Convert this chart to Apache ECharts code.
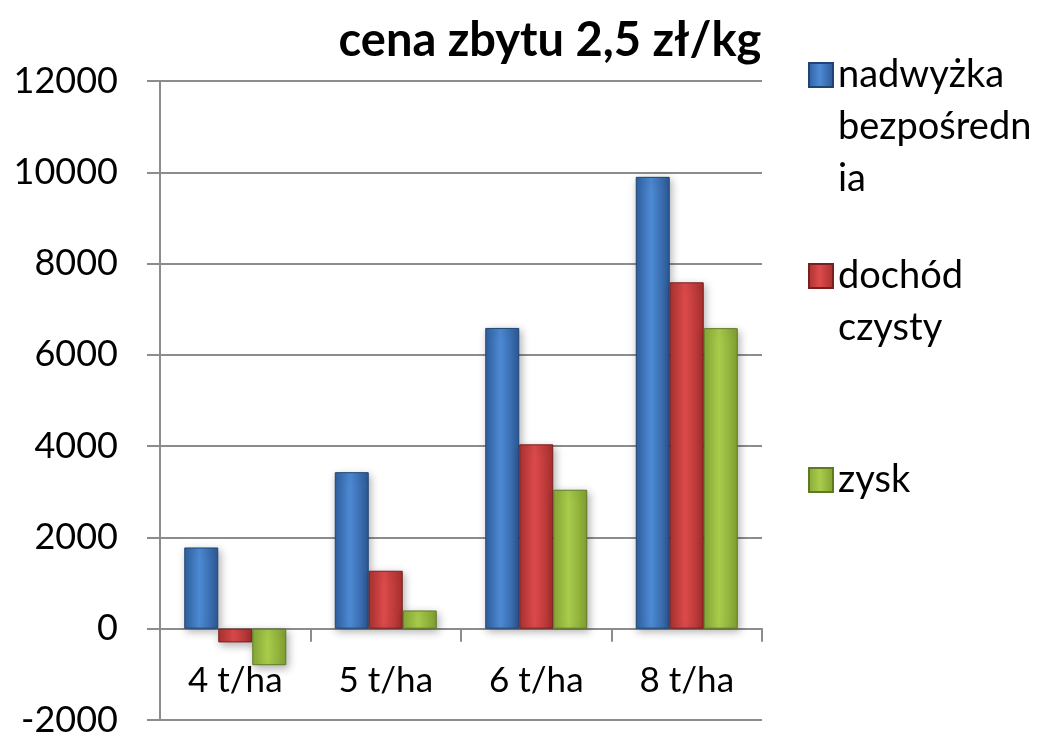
<!DOCTYPE html>
<html>
<head>
<meta charset="utf-8">
<script src="https://cdn.jsdelivr.net/npm/echarts@6/dist/echarts.min.js"></script>
<style>
  html, body { margin: 0; padding: 0; background: #fff; }
  #main { width: 1050px; height: 735px; }
</style>
</head>
<body>
<div id="main"></div>
<script>
var categories = ['4 t/ha', '5 t/ha', '6 t/ha', '8 t/ha'];
var seriesNames = ['nadwyżka bezpośrednia', 'dochód czysty', 'zysk'];
var nadwyzka = [1780, 3430, 6590, 9900];
var dochod = [-300, 1270, 4040, 7590];
var zysk = [-800, 400, 3045, 6585];

var FONT = 'Lato, "Open Sans", sans-serif';

// wrapped legend labels, as they appear in the picture
var legendLines = {
  'nadwyżka bezpośrednia': ['nadwyżka', 'bezpośredn', 'ia'],
  'dochód czysty': ['dochód', 'czysty'],
  'zysk': ['zysk']
};

function barGradient(dark, light, edge) {
  return new echarts.graphic.LinearGradient(0, 0, 1, 0, [
    { offset: 0, color: dark },
    { offset: 0.45, color: light },
    { offset: 1, color: edge }
  ]);
}

var colors = [
  barGradient('#2f609f', '#4d8ad4', '#2c5894'),
  barGradient('#ab3231', '#dc4a4b', '#a72f2e'),
  barGradient('#88a836', '#a9cc4c', '#809f31')
];
var borders = ['#1f4474', '#7a1f1f', '#5d7a20'];

// the icon sits beside the first line: pad with blank lines above so
// the first line ends up in the vertical middle of the text block
function makeLegend(idx, top) {
  return {
    data: [seriesNames[idx]],
    left: 808,
    top: top,
    padding: 0,
    icon: 'rect',
    itemWidth: 24,
    itemHeight: 24,
    itemGap: 12,
    formatter: function (name) {
      var lines = legendLines[name];
      var pad = [];
      for (var k = 1; k < lines.length; k++) pad.push(' ');
      return pad.concat(lines).join('\n');
    },
    textStyle: {
      fontFamily: FONT,
      fontSize: 38,
      color: '#000',
      lineHeight: 52
    }
  };
}

var myChart = echarts.init(document.getElementById('main'));
myChart.setOption({
  backgroundColor: '#fff',
  animation: false,
  title: {
    text: 'cena zbytu 2,5 zł/kg',
    left: 545,
    textAlign: 'center',
    top: 12,
    textStyle: {
      fontFamily: FONT,
      fontSize: 47,
      fontWeight: 'bold',
      color: '#000'
    }
  },
  legend: [
    makeLegend(0, -55),
    makeLegend(1, 198),
    makeLegend(2, 454)
  ],
  grid: {
    left: 160,
    right: 288,
    top: 81,
    bottom: 15,
    containLabel: false,
    outerBoundsMode: 'none'
  },
  xAxis: {
    type: 'category',
    data: categories,
    axisLine: { onZero: true, lineStyle: { color: '#8c8c8c', width: 2 } },
    axisTick: { show: true, length: 13, lineStyle: { color: '#8c8c8c', width: 2 } },
    axisLabel: {
      fontFamily: FONT,
      fontSize: 35,
      color: '#000',
      margin: -57
    }
  },
  yAxis: {
    type: 'value',
    min: -2000,
    max: 12000,
    interval: 2000,
    axisLine: { show: true, lineStyle: { color: '#8c8c8c', width: 2 } },
    axisTick: { show: true, length: 13, lineStyle: { color: '#8c8c8c', width: 2 } },
    splitLine: { lineStyle: { color: '#8c8c8c', width: 2 } },
    axisLabel: {
      fontFamily: FONT,
      fontSize: 36,
      color: '#000',
      margin: 42,
      formatter: function (v) { return String(v); }
    }
  },
  series: [nadwyzka, dochod, zysk].map(function (vals, i) {
    return {
      name: seriesNames[i],
      type: 'bar',
      data: vals,
      barWidth: 34,
      barGap: '0%',
      itemStyle: {
        color: colors[i],
        borderColor: borders[i],
        borderWidth: 1,
        shadowBlur: 8,
        shadowOffsetX: 2,
        shadowOffsetY: 3,
        shadowColor: 'rgba(0,0,0,0.3)'
      }
    };
  })
});
</script>
</body>
</html>
